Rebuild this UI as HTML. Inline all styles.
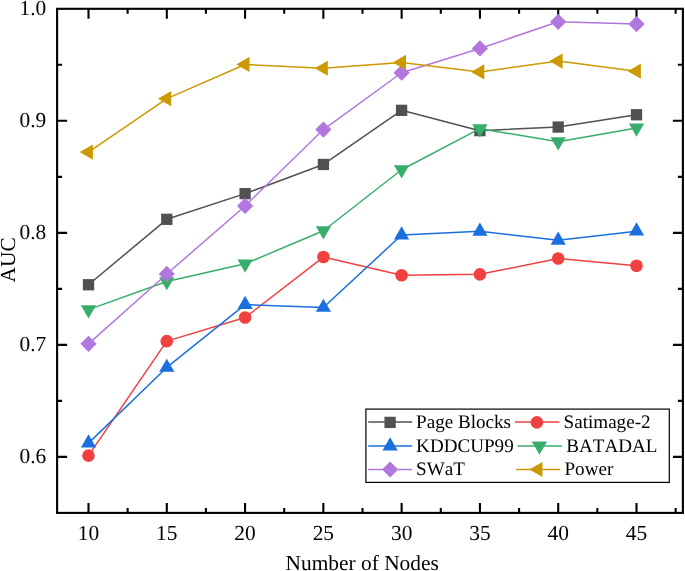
<!DOCTYPE html>
<html><head><meta charset="utf-8"><title>AUC vs Number of Nodes</title>
<style>html,body{margin:0;padding:0;background:#fff;overflow:hidden}svg{display:block;will-change:transform}text{font-family:"Liberation Serif",serif;fill:#000;font-kerning:none;text-rendering:geometricPrecision}</style>
</head><body>
<svg width="685" height="571" viewBox="0 0 685 571">
<rect width="685" height="571" fill="#fff"/>
<g stroke="#000" stroke-width="2.1" fill="none" stroke-linecap="butt">
<rect x="57.1" y="8.8" width="625.8" height="504.1"/>
<path d="M88.5 512.9V502.9M88.5 8.8V18.8M127.64 512.9V507.9M127.64 8.8V13.8M166.79 512.9V502.9M166.79 8.8V18.8M205.93 512.9V507.9M205.93 8.8V13.8M245.07 512.9V502.9M245.07 8.8V18.8M284.21 512.9V507.9M284.21 8.8V13.8M323.36 512.9V502.9M323.36 8.8V18.8M362.5 512.9V507.9M362.5 8.8V13.8M401.64 512.9V502.9M401.64 8.8V18.8M440.79 512.9V507.9M440.79 8.8V13.8M479.93 512.9V502.9M479.93 8.8V18.8M519.07 512.9V507.9M519.07 8.8V13.8M558.21 512.9V502.9M558.21 8.8V18.8M597.36 512.9V507.9M597.36 8.8V13.8M636.5 512.9V502.9M636.5 8.8V18.8M675.64 512.9V507.9M675.64 8.8V13.8M57.1 456.88H67.1M682.9 456.88H672.9M57.1 344.86H67.1M682.9 344.86H672.9M57.1 232.84H67.1M682.9 232.84H672.9M57.1 120.82H67.1M682.9 120.82H672.9M57.1 400.87H62.1M682.9 400.87H677.9M57.1 288.85H62.1M682.9 288.85H677.9M57.1 176.83H62.1M682.9 176.83H677.9M57.1 64.81H62.1M682.9 64.81H677.9"/>
</g>
<g><polyline points="88.5,284.75 166.8,219.3 245.1,193.65 323.4,164.45 401.6,110.35 479.9,130.65 558.2,127.05 636.5,114.75" fill="none" stroke="#515151" stroke-width="1.5" stroke-linejoin="round"/>
<rect x="82.85" y="279.1" width="11.3" height="11.3" fill="#515151"/>
<rect x="161.15" y="213.65" width="11.3" height="11.3" fill="#515151"/>
<rect x="239.45" y="188" width="11.3" height="11.3" fill="#515151"/>
<rect x="317.75" y="158.8" width="11.3" height="11.3" fill="#515151"/>
<rect x="395.95" y="104.7" width="11.3" height="11.3" fill="#515151"/>
<rect x="474.25" y="125" width="11.3" height="11.3" fill="#515151"/>
<rect x="552.55" y="121.4" width="11.3" height="11.3" fill="#515151"/>
<rect x="630.85" y="109.1" width="11.3" height="11.3" fill="#515151"/>
</g>
<g><polyline points="88.5,455.65 166.8,341.15 245.1,317.55 323.4,257.05 401.6,275.25 479.9,274.35 558.2,258.55 636.5,265.75" fill="none" stroke="#F14040" stroke-width="1.5" stroke-linejoin="round"/>
<circle cx="88.5" cy="455.65" r="6.3" fill="#F14040"/>
<circle cx="166.8" cy="341.15" r="6.3" fill="#F14040"/>
<circle cx="245.1" cy="317.55" r="6.3" fill="#F14040"/>
<circle cx="323.4" cy="257.05" r="6.3" fill="#F14040"/>
<circle cx="401.6" cy="275.25" r="6.3" fill="#F14040"/>
<circle cx="479.9" cy="274.35" r="6.3" fill="#F14040"/>
<circle cx="558.2" cy="258.55" r="6.3" fill="#F14040"/>
<circle cx="636.5" cy="265.75" r="6.3" fill="#F14040"/>
</g>
<g><polyline points="88.5,443.15 166.8,367.45 245.1,304.55 323.4,307.45 401.6,235.05 479.9,231.25 558.2,240.35 636.5,231.15" fill="none" stroke="#1A6FDF" stroke-width="1.5" stroke-linejoin="round"/>
<path d="M88.5 434.35L96.1 447.55L80.9 447.55Z" fill="#1A6FDF"/>
<path d="M166.8 358.65L174.4 371.85L159.2 371.85Z" fill="#1A6FDF"/>
<path d="M245.1 295.75L252.7 308.95L237.5 308.95Z" fill="#1A6FDF"/>
<path d="M323.4 298.65L331 311.85L315.8 311.85Z" fill="#1A6FDF"/>
<path d="M401.6 226.25L409.2 239.45L394 239.45Z" fill="#1A6FDF"/>
<path d="M479.9 222.45L487.5 235.65L472.3 235.65Z" fill="#1A6FDF"/>
<path d="M558.2 231.55L565.8 244.75L550.6 244.75Z" fill="#1A6FDF"/>
<path d="M636.5 222.35L644.1 235.55L628.9 235.55Z" fill="#1A6FDF"/>
</g>
<g><polyline points="88.5,309.65 166.8,281.55 245.1,263.85 323.4,230.75 401.6,169.75 479.9,128.65 558.2,141.75 636.5,127.95" fill="none" stroke="#37AD6B" stroke-width="1.5" stroke-linejoin="round"/>
<path d="M88.5 318.45L96.1 305.25L80.9 305.25Z" fill="#37AD6B"/>
<path d="M166.8 290.35L174.4 277.15L159.2 277.15Z" fill="#37AD6B"/>
<path d="M245.1 272.65L252.7 259.45L237.5 259.45Z" fill="#37AD6B"/>
<path d="M323.4 239.55L331 226.35L315.8 226.35Z" fill="#37AD6B"/>
<path d="M401.6 178.55L409.2 165.35L394 165.35Z" fill="#37AD6B"/>
<path d="M479.9 137.45L487.5 124.25L472.3 124.25Z" fill="#37AD6B"/>
<path d="M558.2 150.55L565.8 137.35L550.6 137.35Z" fill="#37AD6B"/>
<path d="M636.5 136.75L644.1 123.55L628.9 123.55Z" fill="#37AD6B"/>
</g>
<g><polyline points="88.5,343.85 166.8,273.95 245.1,205.95 323.4,129.55 401.6,72.75 479.9,48.45 558.2,21.8 636.5,24.05" fill="none" stroke="#B177DE" stroke-width="1.5" stroke-linejoin="round"/>
<path d="M88.5 335.75L96.6 343.85L88.5 351.95L80.4 343.85Z" fill="#B177DE"/>
<path d="M166.8 265.85L174.9 273.95L166.8 282.05L158.7 273.95Z" fill="#B177DE"/>
<path d="M245.1 197.85L253.2 205.95L245.1 214.05L237 205.95Z" fill="#B177DE"/>
<path d="M323.4 121.45L331.5 129.55L323.4 137.65L315.3 129.55Z" fill="#B177DE"/>
<path d="M401.6 64.65L409.7 72.75L401.6 80.85L393.5 72.75Z" fill="#B177DE"/>
<path d="M479.9 40.35L488 48.45L479.9 56.55L471.8 48.45Z" fill="#B177DE"/>
<path d="M558.2 13.7L566.3 21.8L558.2 29.9L550.1 21.8Z" fill="#B177DE"/>
<path d="M636.5 15.95L644.6 24.05L636.5 32.15L628.4 24.05Z" fill="#B177DE"/>
</g>
<g><polyline points="88.5,152.05 166.8,98.65 245.1,64.45 323.4,68.25 401.6,62.45 479.9,71.95 558.2,61.05 636.5,71.2" fill="none" stroke="#CC9900" stroke-width="1.5" stroke-linejoin="round"/>
<path d="M79.7 152.05L92.9 144.45L92.9 159.65Z" fill="#CC9900"/>
<path d="M158 98.65L171.2 91.05L171.2 106.25Z" fill="#CC9900"/>
<path d="M236.3 64.45L249.5 56.85L249.5 72.05Z" fill="#CC9900"/>
<path d="M314.6 68.25L327.8 60.65L327.8 75.85Z" fill="#CC9900"/>
<path d="M392.8 62.45L406 54.85L406 70.05Z" fill="#CC9900"/>
<path d="M471.1 71.95L484.3 64.35L484.3 79.55Z" fill="#CC9900"/>
<path d="M549.4 61.05L562.6 53.45L562.6 68.65Z" fill="#CC9900"/>
<path d="M627.7 71.2L640.9 63.6L640.9 78.8Z" fill="#CC9900"/>
</g>
<g font-size="21.4">
<text x="46.2" y="462.98" text-anchor="end">0.6</text>
<text x="46.2" y="350.96" text-anchor="end">0.7</text>
<text x="46.2" y="238.94" text-anchor="end">0.8</text>
<text x="46.2" y="126.92" text-anchor="end">0.9</text>
<text x="46.2" y="14.9" text-anchor="end">1.0</text>
<text x="88.5" y="540.1" text-anchor="middle">10</text>
<text x="166.79" y="540.1" text-anchor="middle">15</text>
<text x="245.07" y="540.1" text-anchor="middle">20</text>
<text x="323.36" y="540.1" text-anchor="middle">25</text>
<text x="401.64" y="540.1" text-anchor="middle">30</text>
<text x="479.93" y="540.1" text-anchor="middle">35</text>
<text x="558.21" y="540.1" text-anchor="middle">40</text>
<text x="636.5" y="540.1" text-anchor="middle">45</text>
<text x="362.2" y="570.1" text-anchor="middle">Number of Nodes</text>
<text transform="translate(14.8 259.8) rotate(-90)" text-anchor="middle">AUC</text>
</g>
<g>
<rect x="365.9" y="409.1" width="303.4" height="73.3" fill="#fff" stroke="#000" stroke-width="1.2"/>
<g font-size="19.1">
<path d="M368.2 422.05H412.2" stroke="#515151" stroke-width="1.5"/>
<rect x="384.45" y="416.75" width="11.3" height="11.3" fill="#515151"/>
<text x="416.1" y="428.3">Page Blocks</text>
<path d="M514.9 422.05H559.4" stroke="#F14040" stroke-width="1.5"/>
<circle cx="536.9" cy="422.4" r="6.3" fill="#F14040"/>
<text x="563.6" y="428.3">Satimage-2</text>
<path d="M368.2 446H412.2" stroke="#1A6FDF" stroke-width="1.5"/>
<path d="M390.1 437.2L397.7 450.4L382.5 450.4Z" fill="#1A6FDF"/>
<text x="416.1" y="451.9">KDDCUP99</text>
<path d="M517.6 446H561.8" stroke="#37AD6B" stroke-width="1.5"/>
<path d="M539.45 454.8L547.05 441.6L531.85 441.6Z" fill="#37AD6B"/>
<text x="566.3" y="451.9">BATADAL</text>
<path d="M368.2 469.5H412.2" stroke="#B177DE" stroke-width="1.5"/>
<path d="M390.1 461.4L398.2 469.5L390.1 477.6L382 469.5Z" fill="#B177DE"/>
<text x="416.1" y="475.4">SWaT</text>
<path d="M516.2 469.5H560.4" stroke="#CC9900" stroke-width="1.5"/>
<path d="M529.25 469.5L542.45 461.9L542.45 477.1Z" fill="#CC9900"/>
<text x="564.5" y="475.4">Power</text>
</g></g>
</svg></body></html>
